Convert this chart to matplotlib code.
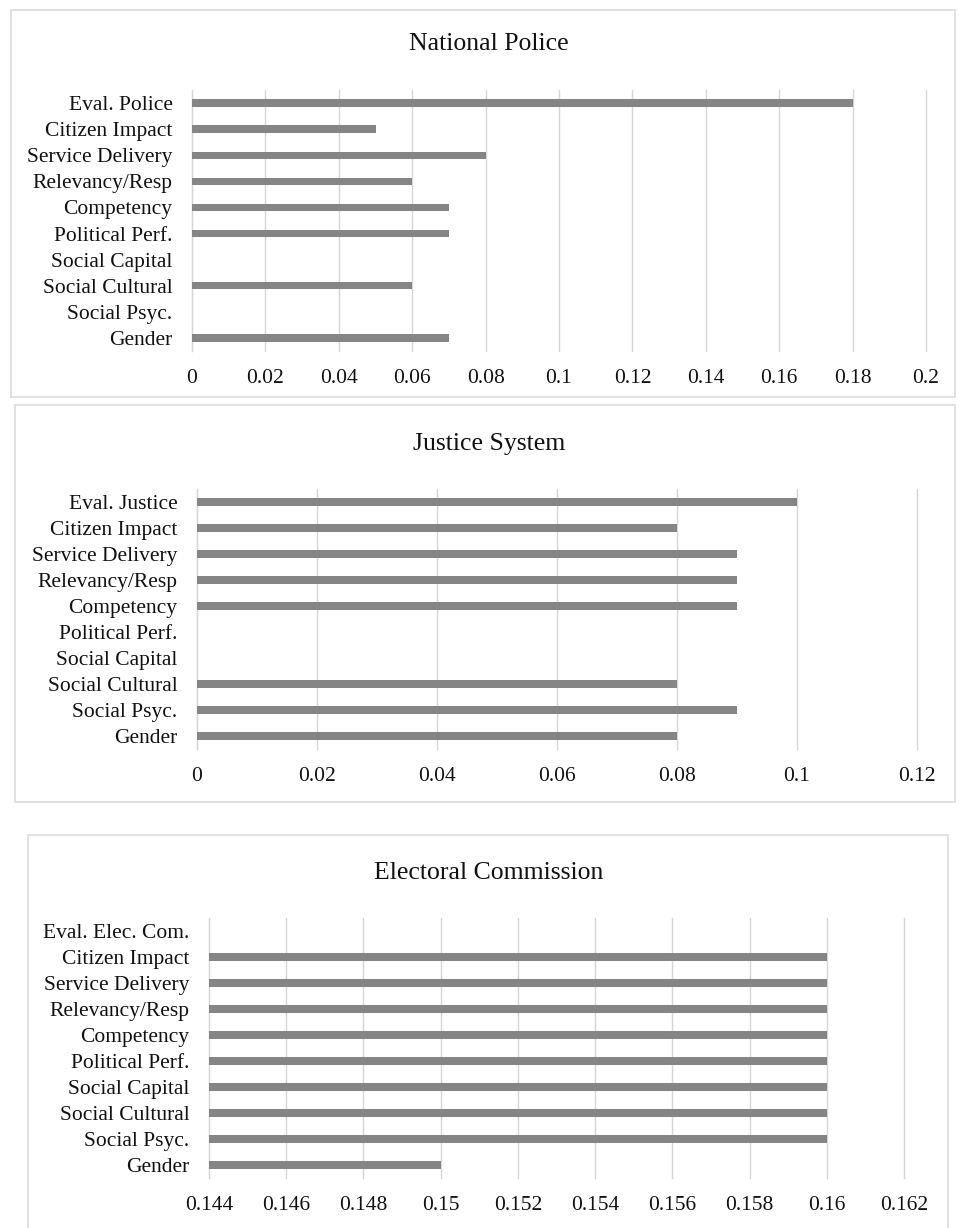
import matplotlib
matplotlib.use("Agg")
import matplotlib.pyplot as plt
from matplotlib.patches import Rectangle
import numpy as np

plt.rcParams['font.family'] = ['Liberation Serif', 'DejaVu Serif']

police_labels = ["Eval. Police", "Citizen Impact", "Service Delivery", "Relevancy/Resp",
                 "Competency", "Political Perf.", "Social Capital", "Social Cultural",
                 "Social Psyc.", "Gender"]
police_values = [0.18, 0.05, 0.08, 0.06, 0.07, 0.07, 0.0, 0.06, 0.0, 0.07]
police_ticks = [0, 0.02, 0.04, 0.06, 0.08, 0.1, 0.12, 0.14, 0.16, 0.18, 0.2]

justice_labels = ["Eval. Justice", "Citizen Impact", "Service Delivery", "Relevancy/Resp",
                  "Competency", "Political Perf.", "Social Capital", "Social Cultural",
                  "Social Psyc.", "Gender"]
justice_values = [0.10, 0.08, 0.09, 0.09, 0.09, 0.0, 0.0, 0.08, 0.09, 0.08]
justice_ticks = [0, 0.02, 0.04, 0.06, 0.08, 0.1, 0.12]

elec_labels = ["Eval. Elec. Com.", "Citizen Impact", "Service Delivery", "Relevancy/Resp",
               "Competency", "Political Perf.", "Social Capital", "Social Cultural",
               "Social Psyc.", "Gender"]
elec_values = [0.0, 0.16, 0.16, 0.16, 0.16, 0.16, 0.16, 0.16, 0.16, 0.15]
elec_ticks = [0.144, 0.146, 0.148, 0.15, 0.152, 0.154, 0.156, 0.158, 0.16, 0.162]

W, H = 959, 1228
fig = plt.figure(figsize=(W / 100, H / 100), dpi=100)
fig.patch.set_facecolor("white")

BAR_COLOR = "#858585"
GRID_COLOR = "#d6d6d6"
TEXT_COLOR = "#111111"
FS = 15.5


def px_box(x0, y0, x1, y1):
    return [x0 / W, 1 - y1 / H, (x1 - x0) / W, (y1 - y0) / H]


def panel(box, frame, title, title_y, labels, values, ticks):
    ax = fig.add_axes(px_box(*box))
    y = np.arange(len(labels))
    ax.barh(y, values, height=0.28, color=BAR_COLOR, zorder=3)
    ax.set_yticks(y)
    ax.set_yticklabels(labels)
    ax.set_ylim(len(labels) - 0.5, -0.5)
    ax.set_xlim(ticks[0], ticks[-1])
    ax.set_xticks(ticks)
    ax.set_xticklabels([f"{t:g}" for t in ticks])
    ax.tick_params(axis="both", length=0, labelsize=FS, colors=TEXT_COLOR)
    ax.tick_params(axis="y", pad=14)
    ax.tick_params(axis="x", pad=13)
    ax.grid(axis="x", color=GRID_COLOR, linewidth=1.0, zorder=0)
    for line in ax.get_xgridlines():
        line.set_clip_on(False)
    for s in ["top", "right", "bottom"]:
        ax.spines[s].set_visible(False)
    ax.spines["left"].set_color(GRID_COLOR)
    ax.set_facecolor("none")
    fx0, fy0, fx1, fy1 = frame
    fig.patches.append(Rectangle((fx0 / W, 1 - fy1 / H), (fx1 - fx0) / W, (fy1 - fy0) / H,
                                 transform=fig.transFigure, fill=False,
                                 edgecolor="#dcdcdc", linewidth=1.2, zorder=0))
    fig.text(489 / W, 1 - title_y / H, title, ha="center", va="center",
             fontsize=18.5, color=TEXT_COLOR)
    return ax


panel((192, 90, 926, 351), (11, 10, 955, 397), "National Police", 44,
      police_labels, police_values, police_ticks)
panel((197, 489, 917, 749), (15, 405, 955, 802), "Justice System", 444,
      justice_labels, justice_values, justice_ticks)
panel((209, 918, 904, 1178), (28, 835, 948, 1240), "Electoral Commission", 873,
      elec_labels, elec_values, elec_ticks)

fig.savefig("out.png", dpi=100, facecolor="white")
